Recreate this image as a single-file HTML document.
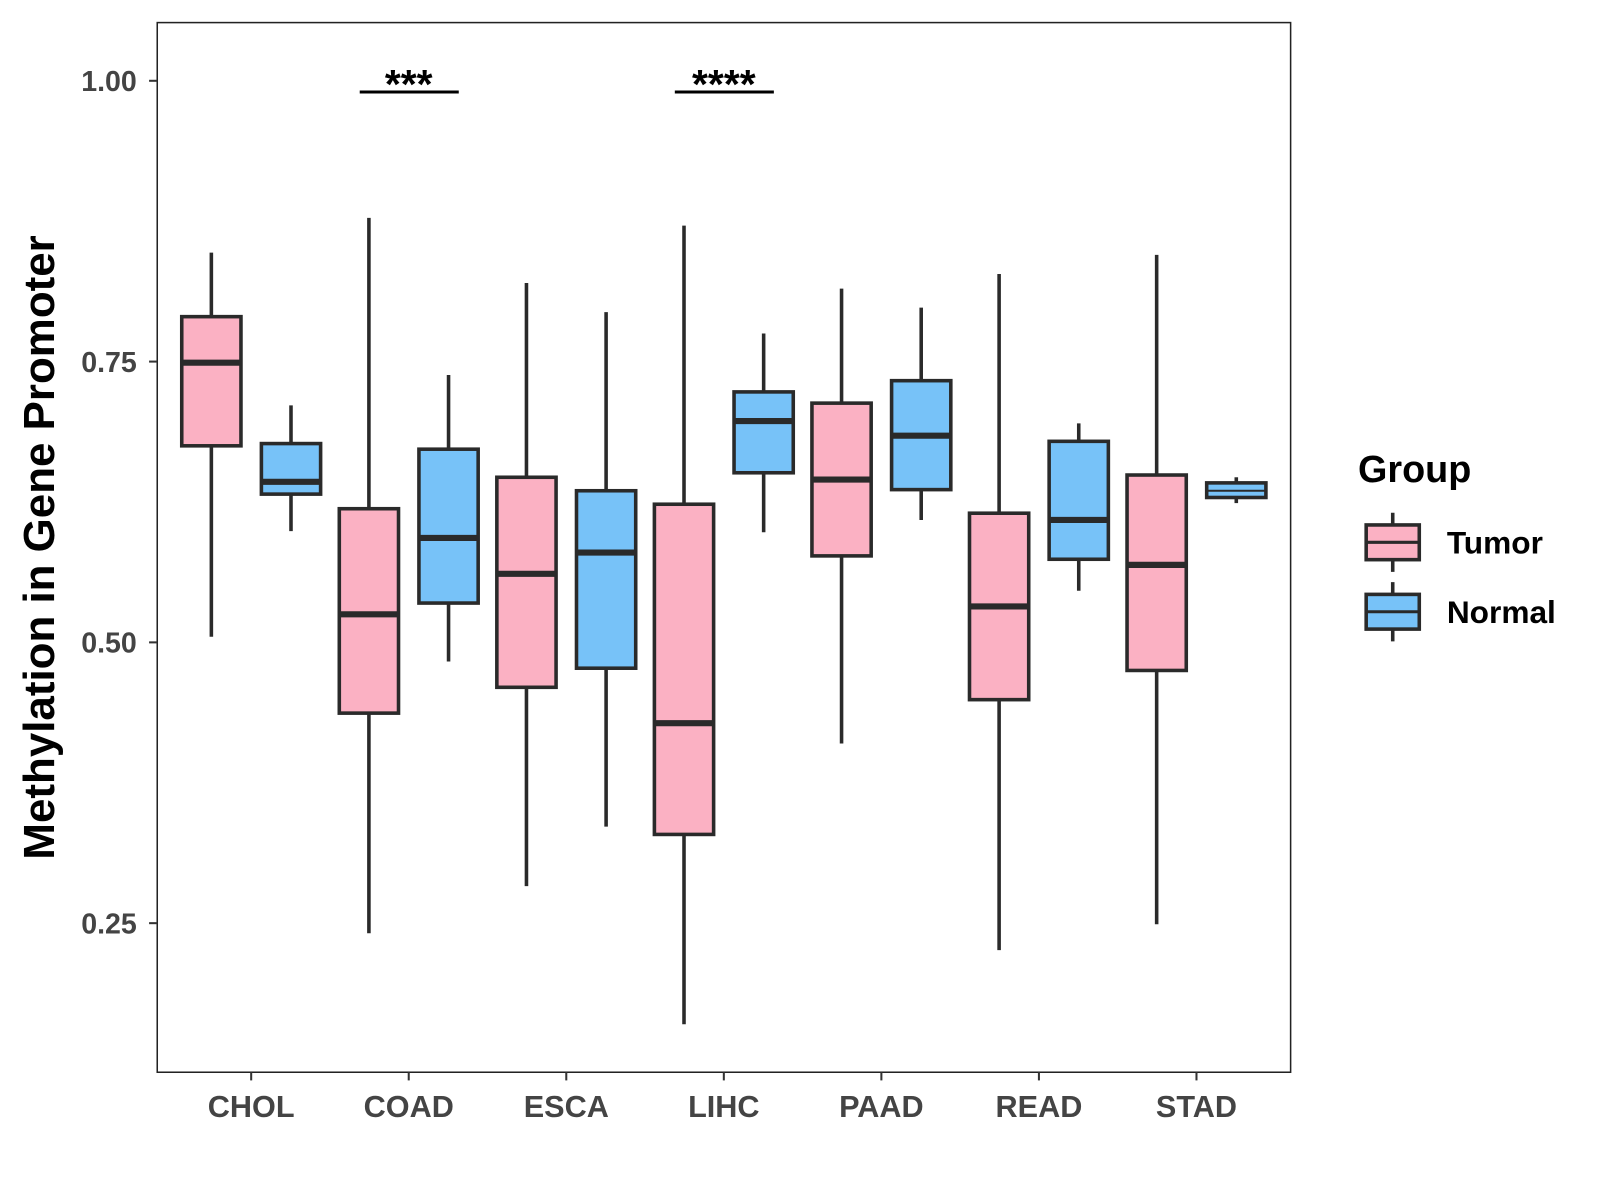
<!DOCTYPE html>
<html><head><meta charset="utf-8"><style>
html,body{margin:0;padding:0;background:#fff;}
svg{display:block;}
text{font-family:"Liberation Sans",Arial,sans-serif;font-weight:bold;}
</style></head><body>
<svg id="chart" width="1600" height="1200" viewBox="0 0 1567 1175" xmlns="http://www.w3.org/2000/svg"></svg>
<script>
const categories = ["CHOL","COAD","ESCA","LIHC","PAAD","READ","STAD"];
const groups = ["Tumor","Normal"];
// each entry: [lower whisker, Q1, median, Q3, upper whisker]
const tumorStats = [
  [0.505,0.675,0.749,0.790,0.847],
  [0.241,0.437,0.525,0.619,0.878],
  [0.283,0.460,0.561,0.647,0.820],
  [0.160,0.329,0.428,0.623,0.871],
  [0.410,0.577,0.645,0.713,0.815],
  [0.226,0.449,0.532,0.615,0.828],
  [0.249,0.475,0.569,0.649,0.845]
];
const normalStats = [
  [0.599,0.632,0.643,0.677,0.711],
  [0.483,0.535,0.593,0.672,0.738],
  [0.336,0.477,0.580,0.635,0.794],
  [0.598,0.651,0.697,0.723,0.775],
  [0.609,0.636,0.684,0.733,0.798],
  [0.546,0.574,0.609,0.679,0.695],
  [0.624,0.629,0.635,0.642,0.647]
];
const yTicks = [0.25,0.50,0.75,1.00];
const yTickLabels = ["0.25","0.50","0.75","1.00"];
const sigCategories = ["COAD","LIHC"];
const sigLabels = ["***","****"];
const sigLevel = [0.99,0.99];

const NS="http://www.w3.org/2000/svg";
const svg=document.getElementById('chart');
const P={l:154,r:1264,t:22,b:1050};
function y(v){return 79+(1-v)*1100;}
function x(i){return 246+154.3*i;}
function mk(tag,attrs,parent){const e=document.createElementNS(NS,tag);for(const k in attrs)e.setAttribute(k,attrs[k]);(parent||svg).appendChild(e);return e;}
const colors={Tumor:"#FBB1C3",Normal:"#77C2F8"};

const panel=mk('rect',{x:P.l,y:P.t,width:P.r-P.l,height:P.b-P.t,fill:'#fff',stroke:'#222','stroke-width':1.5});



yTicks.forEach((t,i)=>{
  const tk=mk('line',{x1:P.l-8,x2:P.l,y1:y(t),y2:y(t),stroke:'#333','stroke-width':2});
  
  
  const tl=mk('text',{x:P.l-20,y:y(t)+10,'text-anchor':'end','font-size':28,fill:'#444'});
  tl.textContent=yTickLabels[i];
  
  
});
const yt=mk('text',{x:0,y:0,transform:'translate(53,536) rotate(-90)','text-anchor':'middle','font-size':43,fill:'#000'});
yt.textContent='Methylation in Gene Promoter';



categories.forEach((c,i)=>{
  const tk=mk('line',{x1:x(i),x2:x(i),y1:P.b,y2:P.b+8,stroke:'#333','stroke-width':2});
  
  
  const tl=mk('text',{x:x(i),y:1094,'text-anchor':'middle','font-size':30,fill:'#444'});
  tl.textContent=c;
  
  
});

const bw=58, off=39;
function drawBox(cx,s,fill,name,thinMed){
  const g=mk('g',{});
  
  
  mk('line',{x1:cx,x2:cx,y1:y(s[4]),y2:y(s[0]),stroke:'#2a2a2a','stroke-width':3.5},g);
  mk('rect',{x:cx-bw/2,y:y(s[3]),width:bw,height:Math.max(1,y(s[1])-y(s[3])),fill:fill,stroke:'#2a2a2a','stroke-width':3.5},g);
  mk('line',{x1:cx-bw/2,x2:cx+bw/2,y1:y(s[2]),y2:y(s[2]),stroke:'#2a2a2a','stroke-width':thinMed?2:6},g);
}
categories.forEach((c,i)=>{
  drawBox(x(i)-off,tumorStats[i],colors.Tumor,'box-tumor-'+c.toLowerCase(),false);
  const n=normalStats[i];
  drawBox(x(i)+off,n,colors.Normal,'box-normal-'+c.toLowerCase(),(y(n[1])-y(n[3]))<20);
});

sigCategories.forEach((c,k)=>{
  const i=categories.indexOf(c);
  const ln=mk('line',{x1:x(i)-off-9,x2:x(i)+off+10,y1:y(sigLevel[k]),y2:y(sigLevel[k]),stroke:'#000','stroke-width':3});
  
  
  const tx=mk('text',{x:x(i),y:y(sigLevel[k])+6,'text-anchor':'middle','font-size':40,fill:'#000'});
  tx.textContent=sigLabels[k];
  
  
});

const lt=mk('text',{x:1330,y:472,'font-size':37,fill:'#000'});
lt.textContent='Group';


groups.forEach((gname,k)=>{
  const top=514+k*68;
  const g=mk('g',{});
  
  
  mk('line',{x1:1364,x2:1364,y1:top-12,y2:top+46,stroke:'#2a2a2a','stroke-width':3.5},g);
  mk('rect',{x:1338,y:top,width:52,height:34,fill:colors[gname],stroke:'#2a2a2a','stroke-width':3.5},g);
  mk('line',{x1:1338,x2:1390,y1:top+17,y2:top+17,stroke:'#2a2a2a','stroke-width':3},g);
  const t=mk('text',{x:1417,y:top+28,'font-size':31,fill:'#000'},g);
  t.textContent=gname;
});
</script>
</body></html>
